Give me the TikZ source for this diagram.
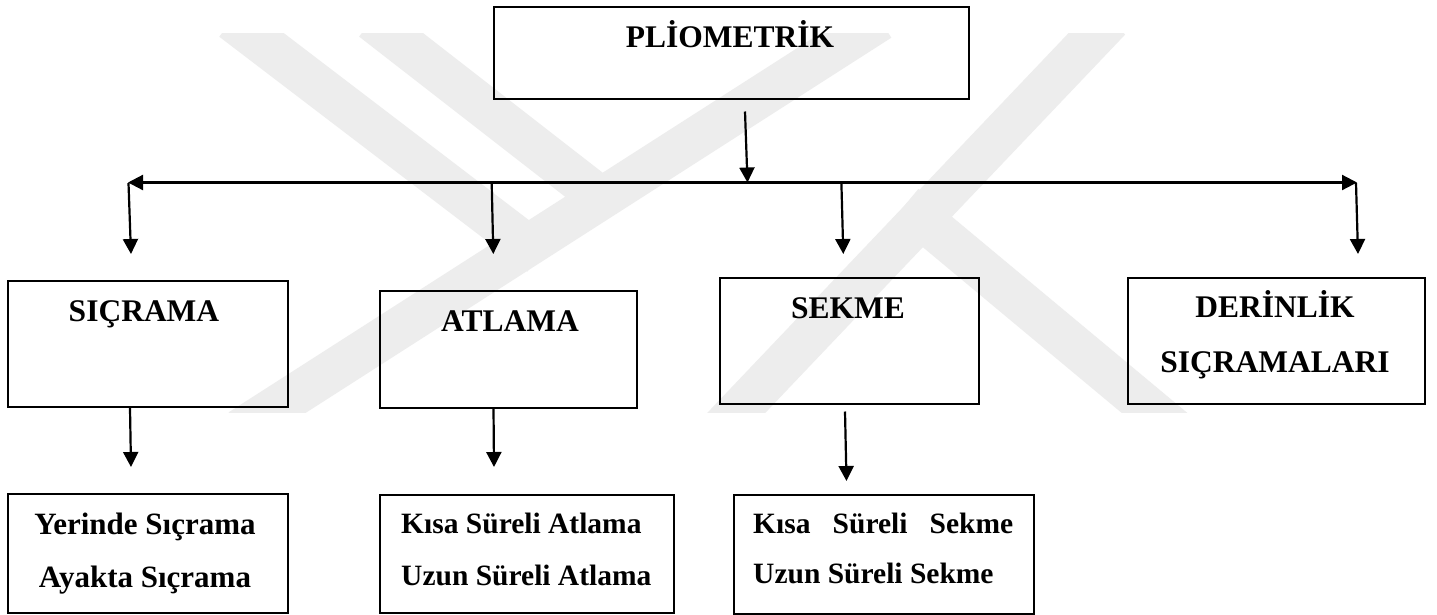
\documentclass[tikz,border=0pt]{standalone}
\usepackage{fontspec}
\setmainfont{Liberation Serif}
\usetikzlibrary{arrows.meta}
\definecolor{wm}{gray}{0.93}
\begin{document}
\begin{tikzpicture}[x=1pt,y=-1pt,
  box/.style={draw=black, line width=2.4pt, inner sep=0pt, anchor=north west},
  lbl/.style={inner sep=0pt, font=\bfseries\fontsize{31.5}{36}\selectfont},
  sub/.style={inner sep=0pt, font=\bfseries\fontsize{29.5}{34}\selectfont},
  tip/.style={Triangle[length=15pt,width=15pt]},
  arr/.style={line width=2.2pt, -{Triangle[length=15pt,width=15pt]}},
  band/.style={line width=42pt, draw=wm, line cap=butt}]
\useasboundingbox (0,0) rectangle (1437,614);
\fill[white] (0,0) rectangle (1437,614);
% watermark (faint)
\begin{scope}
\clip (0,33) rectangle (1437,412);
\draw[band] (232,20) -- (540,255);
\draw[band] (372,20) -- (610,205);
\draw[band] (880,20) -- (240,430);
\draw[band] (1110,20) -- (720,430);
\draw[band] (905,205) -- (1175,430);
\end{scope}
% boxes
\node[box, minimum width=475pt, minimum height=92pt] (plio) at (493,6) {};
\node[box, minimum width=280pt, minimum height=126pt] (sic) at (7,280) {};
\node[box, minimum width=257pt, minimum height=117pt] (atl) at (379,290) {};
\node[box, minimum width=259pt, minimum height=126pt] (sek) at (719,277) {};
\node[box, minimum width=297pt, minimum height=126pt] (der) at (1127,277) {};
\node[box, minimum width=280pt, minimum height=119pt] (sicA) at (7,493) {};
\node[box, minimum width=294pt, minimum height=118pt] (atlA) at (379,494) {};
\node[box, minimum width=300pt, minimum height=119pt] (sekA) at (733,494) {};
% texts
\node[lbl, anchor=base] (tplio) at (730,47) {PLİOMETRİK};
\node[lbl, anchor=base] (tsic) at (144,321.5) {SIÇRAMA};
\node[lbl, anchor=base] (tatl) at (510,331.5) {ATLAMA};
\node[lbl, anchor=base] (tsek) at (848,318) {SEKME};
\node[lbl, anchor=base] (tder1) at (1275,317) {DERİNLİK};
\node[lbl, anchor=base] (tder2) at (1275,372) {SIÇRAMALARI};
\node[sub, anchor=base, font=\bfseries\fontsize{31}{36}\selectfont] (ty1) at (145,534) {Yerinde Sıçrama};
\node[sub, anchor=base, font=\bfseries\fontsize{31}{36}\selectfont] (ty2) at (145,587) {Ayakta Sıçrama};
\node[sub, anchor=base west] (ta1) at (401,533) {Kısa Süreli Atlama};
\node[sub, anchor=base west] (ta2) at (401,585) {Uzun Süreli Atlama};
\node[sub, anchor=base west] (ts1) at (753,533) {Kısa\hspace{0.5em} Süreli\hspace{0.5em} Sekme};
\node[sub, anchor=base west] (ts2) at (753,583) {Uzun Süreli Sekme};
% connector coordinates
\coordinate (p0) at (745,111.5);
\coordinate (hub) at (747.5,182.5);
\coordinate (barL) at (128,182.5);
\coordinate (barR) at (1357,182.5);
\coordinate (d1s) at (128.5,183); \coordinate (d1e) at (131,254);
\coordinate (d2s) at (491.7,183); \coordinate (d2e) at (493.3,254);
\coordinate (d3s) at (841.4,183); \coordinate (d3e) at (843.3,254);
\coordinate (d4s) at (1356,183); \coordinate (d4e) at (1358,254);
\coordinate (e1s) at (130,408); \coordinate (e1e) at (131,467);
\coordinate (e2s) at (493.5,408); \coordinate (e2e) at (494,467);
\coordinate (e3s) at (845,411.5); \coordinate (e3e) at (846.5,481);
% connectors
\draw[arr] (p0) -- (hub);
\draw[line width=2.2pt, {Triangle[length=15pt,width=15pt]}-{Triangle[length=15pt,width=15pt]}] (barL) -- (barR);
\draw[arr] (d1s) -- (d1e);
\draw[arr] (d2s) -- (d2e);
\draw[arr] (d3s) -- (d3e);
\draw[arr] (d4s) -- (d4e);
\draw[arr] (e1s) -- (e1e);
\draw[arr] (e2s) -- (e2e);
\draw[arr] (e3s) -- (e3e);
\end{tikzpicture}
\end{document}
